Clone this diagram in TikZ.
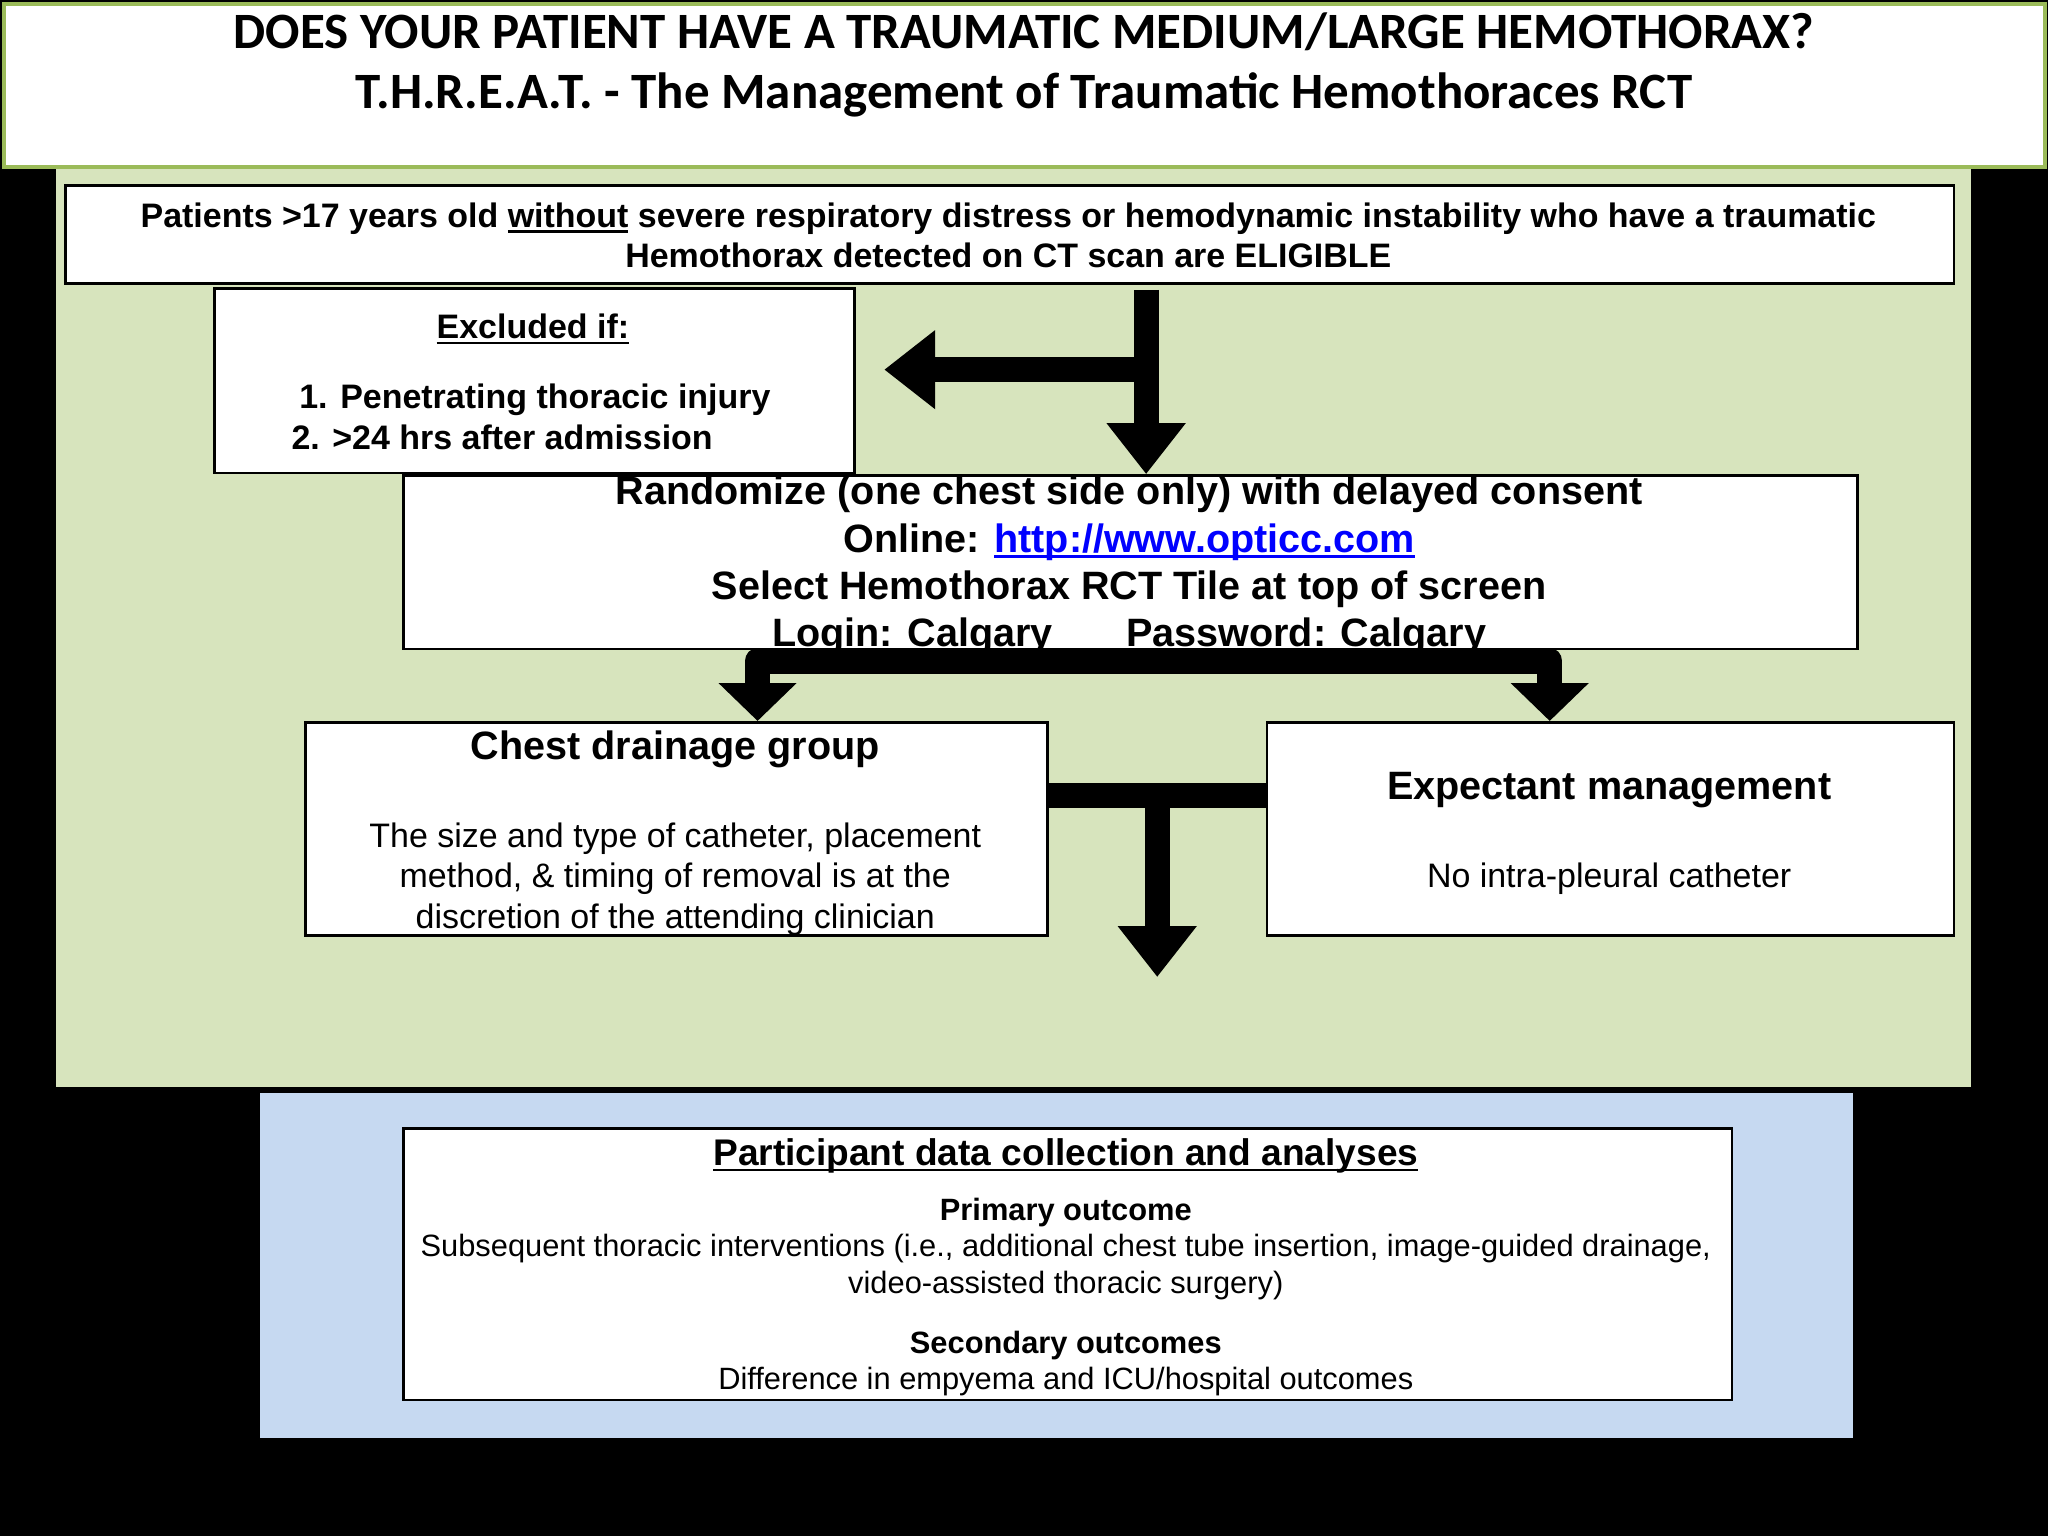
\documentclass[tikz,border=0pt]{standalone}
\usepackage{fontspec}
\setmainfont{Liberation Sans}
\newfontfamily\calib{Carlito}
\usetikzlibrary{arrows.meta,calc}
\definecolor{grnfill}{HTML}{D7E4BD}
\definecolor{grnline}{HTML}{9BBB59}
\definecolor{bluefill}{HTML}{C6D9F1}
\definecolor{linkblue}{HTML}{0000FF}
\newcommand{\fs}[2]{\fontsize{#1}{#2}\selectfont}
\newlength\ulw
\newcommand{\ulx}[1]{\settowidth\ulw{#1}\rlap{\rule[-4.5pt]{\ulw}{2.2pt}}#1}
\tikzset{
  box/.style={draw=black, line width=2pt, fill=white, inner sep=0pt, anchor=north west},
  txt/.style={inner sep=0pt, align=center},
  blk/.style={draw=black, line width=19pt},
  tipd/.style={-{Triangle[length=39pt,width=58pt]}},
}
\begin{document}
\begin{tikzpicture}[x=1pt,y=-1pt]
\useasboundingbox (0,0) rectangle (1568,1176);
\fill[black] (0,0) rectangle (1568,1176);
\fill[grnfill] (43,128) rectangle (1509,832);
\fill[bluefill] (199,837) rectangle (1419,1101);
% title
\node[draw=grnline, line width=3pt, fill=white, minimum width=1563pt, minimum height=125pt, anchor=north west, inner sep=0pt] (titlebox) at (1.5,1.5) {};
\node[txt, font=\calib\bfseries\fs{39}{46}] (title) at (784,50) {DOES YOUR PATIENT HAVE A TRAUMATIC MEDIUM/LARGE HEMOTHORAX?\\T.H.R.E.A.T. - The Management of Traumatic Hemothoraces RCT};
% patients
\node[box, minimum width=1446pt, minimum height=75pt] (pat) at (49,141) {};
\node[txt, font=\bfseries\fs{26}{31}] (pattxt) at (772,180) {Patients >17 years old \ulx{without} severe respiratory distress or hemodynamic instability who have a traumatic\\Hemothorax detected on CT scan are ELIGIBLE};
% excluded
\node[box, minimum width=490pt, minimum height=141pt] (excl) at (163,220) {};
\node[txt, font=\bfseries\fs{26}{31}] (exhead) at (408,252) {\ulx{Excluded if:}};
\node[txt, font=\bfseries\fs{26}{31}, anchor=west, align=left] (exlist) at (223,319) {\hspace*{6pt}1. Penetrating thoracic injury\\2. >24 hrs after admission};
% randomize
\node[box, minimum width=1113pt, minimum height=133pt] (rand) at (308,363) {};
\node[txt, font=\bfseries\fs{30.3}{36.3}] (randtxt) at (864.5,433) {Randomize (one chest side only) with delayed consent\\Online: {\color{linkblue}\ulx{http://www.opticc.com}}\\Select Hemothorax RCT Tile at top of screen\\Login: Calgary\hspace{56pt}Password: Calgary};
% arms
\node[box, minimum width=568pt, minimum height=163pt] (chest) at (233,552) {};
\node[txt, font=\bfseries\fs{30.3}{34}] (chesthead) at (517,574) {Chest drainage group};
\node[txt, font=\fs{26}{31}] (chestbody) at (517,673) {The size and type of catheter, placement\\method, \& timing of removal is at the\\discretion of the attending clinician};
\node[box, minimum width=526pt, minimum height=163pt] (exp) at (969,552) {};
\node[txt, font=\bfseries\fs{30.3}{34}] (exphead) at (1232,605) {Expectant management};
\node[txt, font=\fs{26}{31}] (expbody) at (1232,673) {No intra-pleural catheter};
% data
\node[box, minimum width=1017pt, minimum height=208pt] (data) at (308,863) {};
\node[txt, font=\bfseries\fs{28.4}{31}] (dhead) at (816,885) {\ulx{Participant data collection and analyses}};
\node[txt, font=\bfseries\fs{23.6}{28}] (prim) at (816,928) {Primary outcome};
\node[txt, font=\fs{23.6}{28}] (primtxt) at (816,970) {Subsequent thoracic interventions (i.e., additional chest tube insertion, image-guided drainage,\\video-assisted thoracic surgery)};
\node[txt, font=\bfseries\fs{23.6}{28}] (sec) at (816,1030) {Secondary outcomes};
\node[txt, font=\fs{23.6}{28}] (sectxt) at (816,1058) {Difference in empyema and ICU/hospital outcomes};
% connectors
\coordinate (va) at (877.5,0);
\coordinate (br) at (877.5,283);
\draw[blk, tipd, shorten <=4pt] (pat.south -| va) -- (rand.north -| va);
\draw[blk, tipd, shorten >=22pt] (br) -- (excl.east |- br);
\coordinate (sl) at (580,506);
\coordinate (sr) at (1186.5,506);
\draw[draw=black, line width=19.5pt, line join=round, {Triangle[length=29pt,width=58pt]}-{Triangle[length=29pt,width=58pt]}] (chest.north -| sl) -- (sl) -- (sr) -- (exp.north -| sr);
\coordinate (mj) at (886,609);
\coordinate (mend) at (886,748);
\draw[blk] (chest.east |- mj) -- (exp.west |- mj);
\draw[blk, tipd] (mj) -- (mend);
\end{tikzpicture}
\end{document}
